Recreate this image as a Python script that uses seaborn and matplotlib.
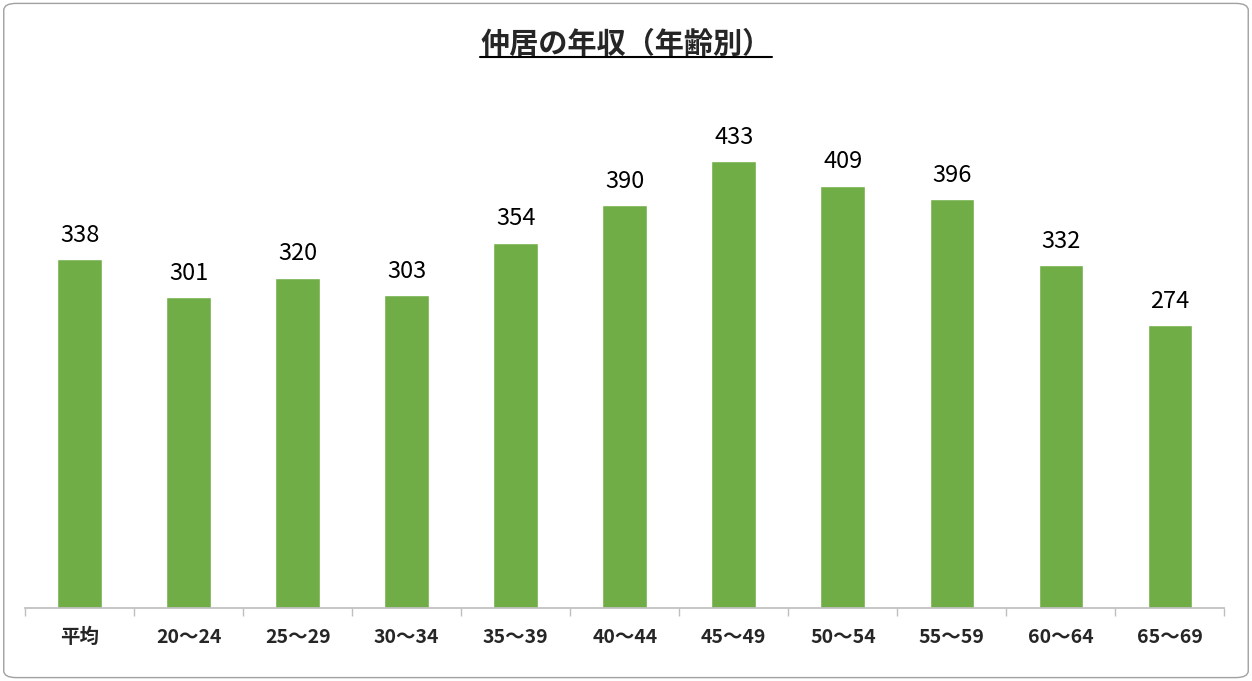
import matplotlib
matplotlib.use("Agg")
import matplotlib.pyplot as plt
import seaborn as sns
import pandas as pd
from matplotlib.patches import FancyBboxPatch
from matplotlib.lines import Line2D

categories = ['平均', '20～24', '25～29', '30～34', '35～39', '40～44',
              '45～49', '50～54', '55～59', '60～64', '65～69']
income = [338, 301, 320, 303, 354, 390, 433, 409, 396, 332, 274]
title = '仲居の年収（年齢別）'

sns.set_theme(style='white')
plt.rcParams['font.family'] = ['Noto Sans CJK JP', 'DejaVu Sans']

df = pd.DataFrame({'age': categories, 'income': income})

fig = plt.figure(figsize=(12.52, 6.81), dpi=100)
ax = fig.add_axes([0.02, 0.107, 0.958, 0.758])
sns.barplot(data=df, x='age', y='income', color='#70ad47', saturation=1,
            width=0.41, ax=ax)

for i, v in enumerate(income):
    ax.text(i, v + 12, str(v), ha='center', va='bottom', fontsize=17, color='black')

ax.set_ylim(0, 500)
ax.set_xlim(-0.5, len(categories) - 0.5)
ax.set_xlabel('')
ax.set_ylabel('')
ax.set_yticks([])
for s in ['top', 'right', 'left']:
    ax.spines[s].set_visible(False)
ax.spines['bottom'].set_color('#bfbfbf')
ax.set_xticks([i + 0.5 for i in range(-1, len(categories))], minor=True)
ax.tick_params(axis='x', which='minor', length=6, color='#bfbfbf', bottom=True)
ax.tick_params(axis='x', which='major', length=0, labelsize=14, pad=14)
for lbl in ax.get_xticklabels():
    lbl.set_fontweight('bold')

t = fig.text(0.5, 0.935, title, ha='center', va='center', fontsize=21, fontweight='bold')
fig.canvas.draw()
bb = t.get_window_extent().transformed(fig.transFigure.inverted())
fig.add_artist(Line2D([bb.x0, bb.x1], [bb.y0 + 0.004, bb.y0 + 0.004],
                      transform=fig.transFigure, color='black', lw=1.5))

fig.add_artist(FancyBboxPatch((0.003, 0.005), 0.994, 0.99,
                              boxstyle='round,pad=0,rounding_size=0.01',
                              transform=fig.transFigure, fill=False,
                              edgecolor='#a0a0a0', lw=1))

fig.savefig('out.png', dpi=100)
